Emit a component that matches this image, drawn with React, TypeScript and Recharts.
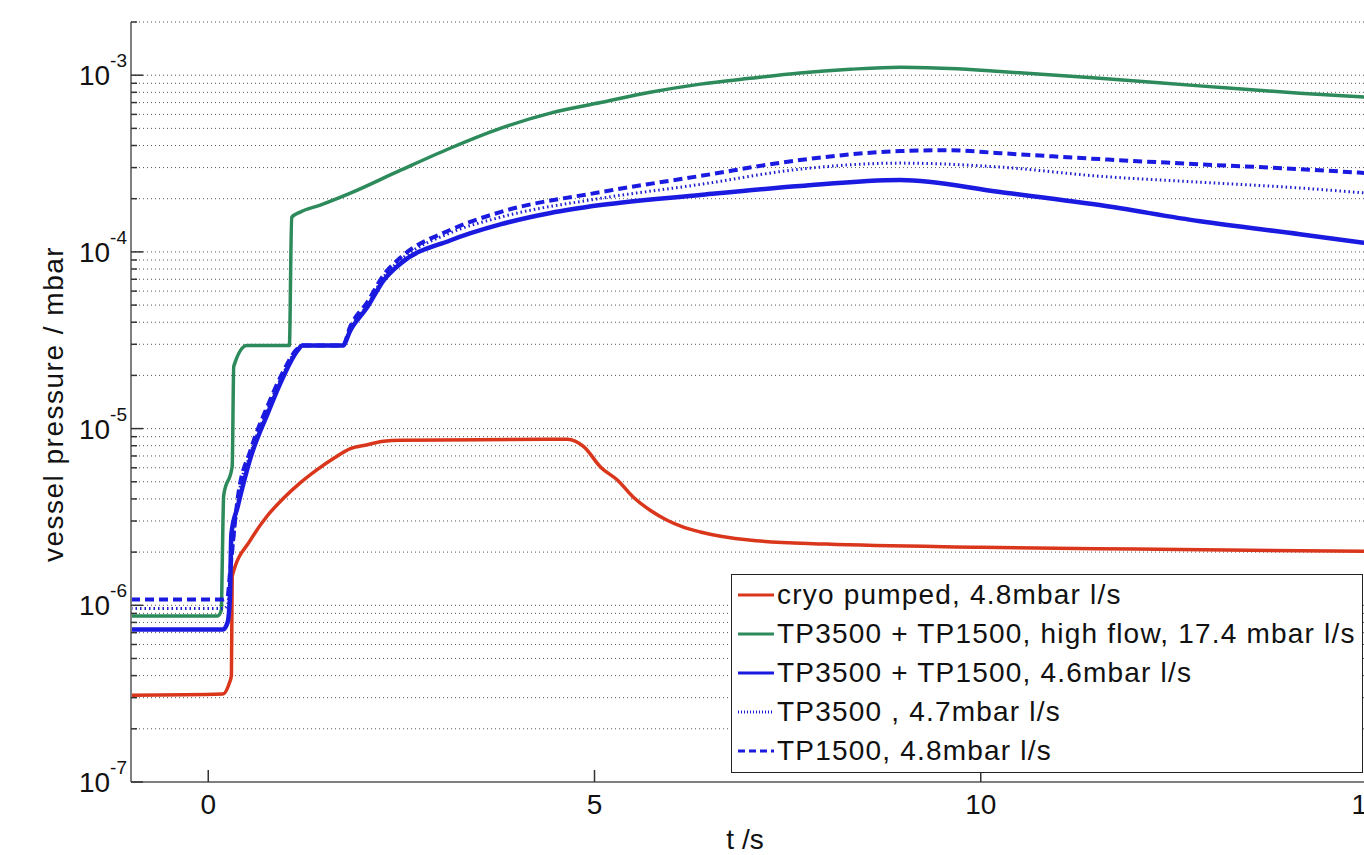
import React from "react";
import {
  LineChart,
  Line,
  XAxis,
  YAxis,
  CartesianGrid,
  Legend,
} from "recharts";

const FONT = '"Liberation Sans", Arial, Helvetica, sans-serif';

// time axis (s) and pressures (mbar)
const cryoT = [-1, 0.19, 0.27, 0.3, 0.31, 0.55, 0.76, 0.98, 1.19, 1.41, 1.63, 1.84, 2.06, 2.27, 2.49, 3.5, 4.65, 4.86, 5.08, 5.3, 5.5, 5.72, 5.94, 6.15, 6.37, 7, 8, 10, 12, 15];
const cryoP = [3.1e-7, 3.15e-7, 3.6e-7, 4.0e-7, 1.46e-6, 2.35e-6, 3.19e-6, 4.06e-6, 4.93e-6, 5.86e-6, 6.82e-6, 7.71e-6, 8.11e-6, 8.48e-6, 8.59e-6, 8.65e-6, 8.7e-6, 7.9e-6, 6.05e-6, 5.1e-6, 4.1e-6, 3.45e-6, 3.03e-6, 2.77e-6, 2.6e-6, 2.34e-6, 2.22e-6, 2.13e-6, 2.08e-6, 2.02e-6];

const highT = [-1, 0.12, 0.17, 0.18, 0.2, 0.31, 0.33, 0.5, 1.05, 1.08, 1.19, 1.45, 1.84, 2.49, 3.13, 3.78, 4.43, 5.08, 5.72, 6.37, 7.01, 7.66, 8.31, 8.96, 9.6, 10.25, 11.54, 12.83, 14.13, 15];
const highP = [8.7e-7, 8.7e-7, 9.4e-7, 1.6e-6, 4.2e-6, 6.1e-6, 2.25e-5, 2.95e-5, 2.95e-5, 1.57e-4, 1.68e-4, 1.84e-4, 2.15e-4, 2.9e-4, 3.86e-4, 5.0e-4, 6.1e-4, 7.0e-4, 8.0e-4, 8.9e-4, 9.6e-4, 1.03e-3, 1.08e-3, 1.11e-3, 1.09e-3, 1.05e-3, 9.6e-4, 8.7e-4, 7.9e-4, 7.5e-4];

const bothT = [-1, 0.19, 0.25, 0.28, 0.3, 0.38, 0.55, 0.77, 0.97, 1.16, 1.22, 1.74, 1.84, 2.06, 2.27, 2.49, 3.13, 3.78, 4.43, 5.08, 6.37, 7.66, 8.96, 10.25, 11.54, 12.84, 14.13, 15];
const bothP = [7.3e-7, 7.3e-7, 8.0e-7, 1.1e-6, 2.55e-6, 3.6e-6, 6.9e-6, 1.22e-5, 1.96e-5, 2.78e-5, 2.95e-5, 2.95e-5, 3.6e-5, 4.87e-5, 6.9e-5, 8.6e-5, 1.16e-4, 1.43e-4, 1.66e-4, 1.84e-4, 2.1e-4, 2.36e-4, 2.55e-4, 2.18e-4, 1.84e-4, 1.49e-4, 1.26e-4, 1.12e-4];

const tp3500T = [-1, 0.19, 0.25, 0.28, 0.38, 0.55, 0.77, 0.97, 1.16, 1.22, 1.74, 1.84, 2.06, 2.27, 2.49, 3.13, 3.78, 5.08, 6.37, 7.66, 8.96, 10.25, 11.54, 12.84, 14.13, 15];
const tp3500P = [9.6e-7, 9.6e-7, 1.0e-6, 1.4e-6, 3.8e-6, 7.3e-6, 1.3e-5, 2.05e-5, 2.85e-5, 2.95e-5, 2.95e-5, 3.7e-5, 5.0e-5, 7.2e-5, 9.0e-5, 1.28e-4, 1.57e-4, 2.01e-4, 2.41e-4, 2.94e-4, 3.18e-4, 3.02e-4, 2.68e-4, 2.48e-4, 2.3e-4, 2.15e-4];

const tp1500T = [-1, 0.19, 0.25, 0.28, 0.38, 0.55, 0.77, 0.97, 1.16, 1.22, 1.74, 1.84, 2.06, 2.27, 2.49, 3.13, 3.78, 5.08, 6.37, 7.66, 8.96, 9.6, 10.25, 11.54, 12.84, 14.13, 15];
const tp1500P = [1.08e-6, 1.08e-6, 1.12e-6, 1.5e-6, 4.0e-6, 7.6e-6, 1.35e-5, 2.1e-5, 2.85e-5, 2.95e-5, 2.95e-5, 3.8e-5, 5.2e-5, 7.4e-5, 9.3e-5, 1.33e-4, 1.68e-4, 2.18e-4, 2.69e-4, 3.31e-4, 3.72e-4, 3.76e-4, 3.62e-4, 3.35e-4, 3.13e-4, 2.94e-4, 2.79e-4];

const xTicks = [0, 5, 10, 15];
const yTicks = [
  1e-7, 2e-7, 3e-7, 4e-7, 5e-7, 6e-7, 7e-7, 8e-7, 9e-7,
  1e-6, 2e-6, 3e-6, 4e-6, 5e-6, 6e-6, 7e-6, 8e-6, 9e-6,
  1e-5, 2e-5, 3e-5, 4e-5, 5e-5, 6e-5, 7e-5, 8e-5, 9e-5,
  1e-4, 2e-4, 3e-4, 4e-4, 5e-4, 6e-4, 7e-4, 8e-4, 9e-4,
  1e-3, 2e-3,
];

const zip = (ts: number[], ps: number[]) => ts.map((t, i) => ({ t, p: ps[i] }));

const series = [
  { name: "cryo pumped, 4.8mbar l/s", data: zip(cryoT, cryoP), color: "#d9361c", width: 3.5, dash: undefined, legendDash: undefined },
  { name: "TP3500 + TP1500, high flow, 17.4 mbar l/s", data: zip(highT, highP), color: "#2d8a5b", width: 3.5, dash: undefined, legendDash: undefined },
  { name: "TP3500 + TP1500, 4.6mbar l/s", data: zip(bothT, bothP), color: "#1a1ae0", width: 4.5, dash: undefined, legendDash: undefined },
  { name: "TP3500 , 4.7mbar l/s", data: zip(tp3500T, tp3500P), color: "#1c1cd0", width: 3, dash: "1.5 3", legendDash: "1 2" },
  { name: "TP1500, 4.8mbar l/s", data: zip(tp1500T, tp1500P), color: "#1a1ae0", width: 4, dash: "9 5", legendDash: "7 4" },
];

const isMajor = (v: number) => {
  const l = Math.log10(v);
  return Math.abs(l - Math.round(l)) < 1e-9;
};

const LeftTick = (props: any) => {
  const { x, y, payload } = props;
  const v = payload.value;
  const major = isMajor(v);
  const exp = Math.round(Math.log10(v));
  return (
    <g>
      <line x1={x} x2={x + (major ? 12 : 6)} y1={y} y2={y} stroke="#333" strokeWidth={1.5} />
      {major && (
        <text x={x - 4} y={y + 10} textAnchor="end" fontFamily={FONT} fontSize={28} fill="#111">
          10
          <tspan dy={-18} fontSize={19}>{`-${-exp}`}</tspan>
        </text>
      )}
    </g>
  );
};

const RightTick = (props: any) => {
  const { x, y, payload } = props;
  const major = isMajor(payload.value);
  return <line x1={x} x2={x - (major ? 12 : 6)} y1={y} y2={y} stroke="#333" strokeWidth={1.5} />;
};

const BottomTick = (props: any) => {
  const { x, y, payload } = props;
  return (
    <g>
      <line x1={x} x2={x} y1={y} y2={y - 12} stroke="#333" strokeWidth={1.5} />
      <text x={x} y={y + 32} textAnchor="middle" fontFamily={FONT} fontSize={28} fill="#111">
        {payload.value}
      </text>
    </g>
  );
};

const TopTick = (props: any) => {
  const { x, y } = props;
  return <line x1={x} x2={x} y1={y} y2={y + 12} stroke="#333" strokeWidth={1.5} />;
};

const YLabel = (props: any) => {
  const { viewBox } = props;
  const cy = viewBox.y + viewBox.height / 2 + 2;
  return (
    <text
      transform={`translate(63, ${cy}) rotate(-90)`}
      textAnchor="middle"
      fontFamily={FONT}
      fontSize={28}
      letterSpacing={1.5}
      fill="#111"
    >
      vessel pressure / mbar
    </text>
  );
};

const XLabel = (props: any) => {
  const { viewBox } = props;
  return (
    <text x={viewBox.x + viewBox.width / 2 - 4} y={849} textAnchor="middle" fontFamily={FONT} fontSize={28} fill="#111">
      t /s
    </text>
  );
};

const LegendBox = () => (
  <div
    style={{
      width: 632,
      height: 199,
      boxSizing: "border-box",
      border: "1.5px solid #222",
      background: "#fff",
      paddingLeft: 5,
      fontFamily: FONT,
      fontSize: 28,
      color: "#111",
    }}
  >
    {series.map((s) => (
      <div key={s.name} style={{ display: "flex", alignItems: "center", height: 39.2 }}>
        <svg width={40} height={10} style={{ flex: "none" }}>
          <line x1={1} x2={37} y1={5} y2={5} stroke={s.color} strokeWidth={3} strokeDasharray={s.legendDash} />
        </svg>
        <span style={{ letterSpacing: 1.2, lineHeight: 1, whiteSpace: "nowrap" }}>{s.name}</span>
      </div>
    ))}
  </div>
);

export default function App() {
  return (
    <div style={{ position: "fixed", left: 0, top: 0, width: 1364, height: 855, overflow: "hidden", background: "#fff" }}>
      <LineChart width={1380} height={855} margin={{ top: 22, right: 13, bottom: 0, left: 0 }}>
        <CartesianGrid vertical={false} stroke="#555" strokeDasharray="1 3" />
        <XAxis
          dataKey="t"
          type="number"
          domain={[-1, 15]}
          ticks={xTicks}
          interval={0}
          allowDataOverflow
          height={73}
          axisLine={{ stroke: "#7f7f7f", strokeWidth: 2 }}
          tickLine={false}
          tickSize={0}
          tickMargin={0}
          tick={BottomTick}
          label={XLabel}
        />
        <XAxis
          xAxisId="top"
          orientation="top"
          type="number"
          domain={[-1, 15]}
          ticks={xTicks}
          interval={0}
          allowDataOverflow
          height={0}
          axisLine={{ stroke: "#555", strokeWidth: 2 }}
          tickLine={false}
          tickSize={0}
          tickMargin={0}
          tick={TopTick}
        />
        <YAxis
          type="number"
          scale="log"
          domain={[1e-7, 2e-3]}
          ticks={yTicks}
          interval={0}
          allowDataOverflow
          width={131}
          axisLine={{ stroke: "#7f7f7f", strokeWidth: 2 }}
          tickLine={false}
          tickSize={0}
          tickMargin={0}
          tick={LeftTick}
          label={YLabel}
        />
        <YAxis
          yAxisId="right"
          orientation="right"
          type="number"
          scale="log"
          domain={[1e-7, 2e-3]}
          ticks={yTicks}
          interval={0}
          allowDataOverflow
          width={0}
          axisLine={{ stroke: "#7f7f7f", strokeWidth: 2 }}
          tickLine={false}
          tickSize={0}
          tickMargin={0}
          tick={RightTick}
        />
        {series.map((s) => (
          <Line
            key={s.name}
            data={s.data}
            dataKey="p"
            name={s.name}
            type="monotone"
            stroke={s.color}
            strokeWidth={s.width}
            strokeDasharray={s.dash}
            dot={false}
            activeDot={false}
            isAnimationActive={false}
          />
        ))}
        <Legend
          layout="vertical"
          align="center"
          verticalAlign="middle"
          content={LegendBox}
          wrapperStyle={{ left: 731, top: 574, width: 632, height: 199 }}
        />
      </LineChart>
    </div>
  );
}
